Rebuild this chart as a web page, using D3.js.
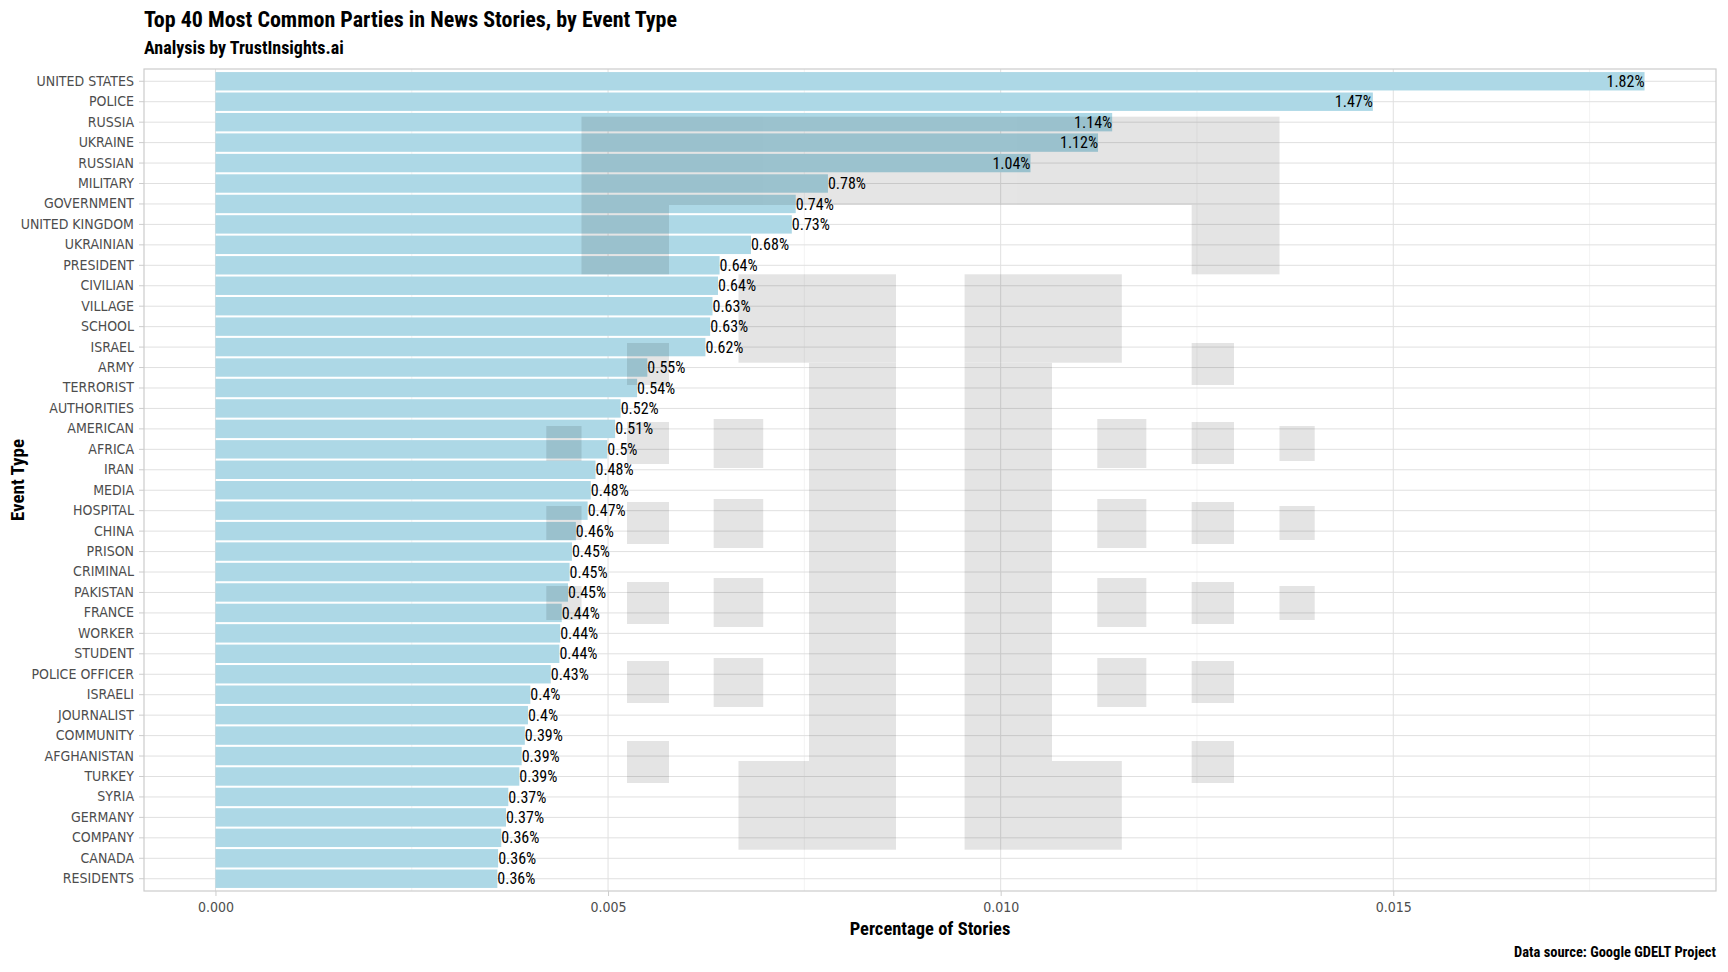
<!DOCTYPE html>
<html>
<head>
<meta charset="utf-8">
<script src="https://cdn.jsdelivr.net/npm/d3@7"></script>
<style>
  html, body { margin: 0; padding: 0; background: #fff; }
  svg { display: block; }
  text { font-family: "Liberation Sans Narrow", "Roboto Condensed", "DejaVu Sans Condensed", "Arial Narrow", sans-serif; }
</style>
</head>
<body>
<svg id="chart" width="1728" height="972"></svg>
<script>
// ---------------- data ----------------
const categories = [
  "UNITED STATES", "POLICE", "RUSSIA", "UKRAINE", "RUSSIAN", "MILITARY", "GOVERNMENT",
  "UNITED KINGDOM", "UKRAINIAN", "PRESIDENT", "CIVILIAN", "VILLAGE", "SCHOOL", "ISRAEL",
  "ARMY", "TERRORIST", "AUTHORITIES", "AMERICAN", "AFRICA", "IRAN", "MEDIA", "HOSPITAL",
  "CHINA", "PRISON", "CRIMINAL", "PAKISTAN", "FRANCE", "WORKER", "STUDENT", "POLICE OFFICER",
  "ISRAELI", "JOURNALIST", "COMMUNITY", "AFGHANISTAN", "TURKEY", "SYRIA", "GERMANY",
  "COMPANY", "CANADA", "RESIDENTS"
];
const shares = [
  0.01820, 0.01474, 0.01142, 0.01124, 0.01038, 0.00780, 0.00739,
  0.00734, 0.00682, 0.00642, 0.00640, 0.00633, 0.00630, 0.00624,
  0.00550, 0.00537, 0.00516, 0.00509, 0.00499, 0.00484, 0.00478, 0.00474,
  0.00459, 0.00454, 0.00451, 0.00449, 0.00441, 0.00439, 0.00438, 0.00427,
  0.00401, 0.00398, 0.00394, 0.00390, 0.00387, 0.00373, 0.00370,
  0.00364, 0.00360, 0.00359
];
const xTicks = [0, 0.005, 0.010, 0.015];
const xMinorTicks = [0.0025, 0.0075, 0.0125, 0.0175];
const xTickLabels = ["0.000", "0.005", "0.010", "0.015"];

const titleText = "Top 40 Most Common Parties in News Stories, by Event Type";
const subtitleText = "Analysis by TrustInsights.ai";
const xTitle = "Percentage of Stories";
const yTitle = "Event Type";
const captionText = "Data source: Google GDELT Project";

// ---------------- layout ----------------
const panel = { left: 144, right: 1716, top: 69, bottom: 891 };
const svg = d3.select("#chart");

const maxV = d3.max(shares);
const x = d3.scaleLinear()
  .domain([-0.05 * maxV, maxV * 1.05])
  .range([panel.left, panel.right]);

const y = d3.scaleBand()
  .domain(categories)
  .range([panel.top, panel.bottom])
  .paddingInner(0.1)
  .paddingOuter(0.15);

const data = categories.map((c, i) => ({ cat: c, v: shares[i] }));

// grid
const grid = svg.append("g");
grid.selectAll("line.minor").data(xMinorTicks.filter(t => x(t) < panel.right)).join("line")
  .attr("x1", d => x(d)).attr("x2", d => x(d))
  .attr("y1", panel.top).attr("y2", panel.bottom)
  .attr("stroke", "#ececec").attr("stroke-width", 0.6);
grid.selectAll("line.majorx").data(xTicks).join("line")
  .attr("x1", d => x(d)).attr("x2", d => x(d))
  .attr("y1", panel.top).attr("y2", panel.bottom)
  .attr("stroke", "#e0e0e0").attr("stroke-width", 1);
grid.selectAll("line.majory").data(categories).join("line")
  .attr("x1", panel.left).attr("x2", panel.right)
  .attr("y1", d => y(d) + y.bandwidth() / 2).attr("y2", d => y(d) + y.bandwidth() / 2)
  .attr("stroke", "#e0e0e0").attr("stroke-width", 1);

// bars
svg.append("g").selectAll("rect").data(data).join("rect")
  .attr("x", x(0))
  .attr("y", d => y(d.cat))
  .attr("width", d => x(d.v) - x(0))
  .attr("height", y.bandwidth())
  .attr("fill", "#add8e6");

// watermark (decorative logo overlay, panel-centered)
const wm = [
  [581.5, 116.7, 1279.5, 205], [581.5, 205, 669, 274.3], [1191.7, 205, 1279.5, 274.3],
  [738.5, 274.3, 896, 362.7], [809, 362.7, 896, 761], [738.5, 761, 896, 849.7],
  [964.6, 274.3, 1121.8, 362.7], [964.6, 362.7, 1052, 761], [964.6, 761, 1121.8, 849.7],
  [627, 343, 669, 385], [627, 422, 669, 464], [627, 502, 669, 544], [627, 582, 669, 624], [627, 661, 669, 703], [627, 741, 669, 783],
  [1191.7, 343, 1234, 385], [1191.7, 422, 1234, 464], [1191.7, 502, 1234, 544], [1191.7, 582, 1234, 624], [1191.7, 661, 1234, 703], [1191.7, 741, 1234, 783],
  [713.7, 419, 763.2, 468], [713.7, 499, 763.2, 548], [713.7, 578, 763.2, 627], [713.7, 658, 763.2, 707],
  [1097.3, 419, 1146.3, 468], [1097.3, 499, 1146.3, 548], [1097.3, 578, 1146.3, 627], [1097.3, 658, 1146.3, 707],
  [546.3, 426, 581.5, 461], [546.3, 506, 581.5, 540], [546.3, 586, 581.5, 620],
  [1279.5, 426, 1314.7, 461], [1279.5, 506, 1314.7, 540], [1279.5, 586, 1314.7, 620]
];
svg.append("g").attr("opacity", 0.1).selectAll("rect").data(wm).join("rect")
  .attr("x", d => d[0]).attr("y", d => d[1])
  .attr("width", d => d[2] - d[0]).attr("height", d => d[3] - d[1])
  .attr("fill", "#000");

// value labels: inside (right-aligned) for >= 1%, outside otherwise
const fmt = v => (Math.round(v * 10000) / 100) + "%";
svg.append("g").selectAll("text").data(data).join("text")
  .attr("x", d => x(d.v))
  .attr("y", d => y(d.cat) + y.bandwidth() / 2)
  .attr("dy", "0.35em")
  .attr("text-anchor", d => d.v >= 0.01 ? "end" : "start")
  .attr("font-size", 16)
  .attr("fill", "#000")
  .text(d => fmt(d.v));

// panel border
svg.append("rect")
  .attr("x", panel.left).attr("y", panel.top)
  .attr("width", panel.right - panel.left).attr("height", panel.bottom - panel.top)
  .attr("fill", "none").attr("stroke", "#cccccc").attr("stroke-width", 1.2);

// axes
const xAxis = d3.axisBottom(x).tickValues(xTicks).tickFormat((d, i) => xTickLabels[i]).tickSize(5).tickPadding(6);
const gx = svg.append("g").attr("transform", `translate(0,${panel.bottom})`).call(xAxis);
gx.select(".domain").remove();
gx.selectAll(".tick line").attr("stroke", "#cccccc");
gx.selectAll(".tick text").attr("font-size", 14).attr("fill", "#4d4d4d")
  .style("font-family", "'Liberation Sans Narrow', 'DejaVu Sans Condensed', sans-serif");

const yAxis = d3.axisLeft(y).tickSize(5).tickPadding(5);
const gy = svg.append("g").attr("transform", `translate(${panel.left},0)`).call(yAxis);
gy.select(".domain").remove();
gy.selectAll(".tick line").attr("stroke", "#cccccc");
gy.selectAll(".tick text").attr("font-size", 14).attr("fill", "#4d4d4d")
  .style("font-family", "'Liberation Sans Narrow', 'DejaVu Sans Condensed', sans-serif");

// titles
svg.append("text").attr("x", panel.left).attr("y", 27)
  .attr("font-size", 22).attr("font-weight", "bold").attr("fill", "#000").text(titleText);
svg.append("text").attr("x", panel.left).attr("y", 54)
  .attr("font-size", 18).attr("font-weight", "bold").attr("fill", "#000").text(subtitleText);
svg.append("text").attr("x", (panel.left + panel.right) / 2).attr("y", 935)
  .attr("text-anchor", "middle").attr("font-size", 18.5).attr("font-weight", "bold").attr("fill", "#000").text(xTitle);
svg.append("text").attr("transform", `translate(24,${(panel.top + panel.bottom) / 2}) rotate(-90)`)
  .attr("text-anchor", "middle").attr("font-size", 19).attr("font-weight", "bold").attr("fill", "#000").text(yTitle);
svg.append("text").attr("x", panel.right).attr("y", 957)
  .attr("text-anchor", "end").attr("font-size", 14.5).attr("font-weight", "bold").attr("fill", "#000").text(captionText);
</script>
</body>
</html>
